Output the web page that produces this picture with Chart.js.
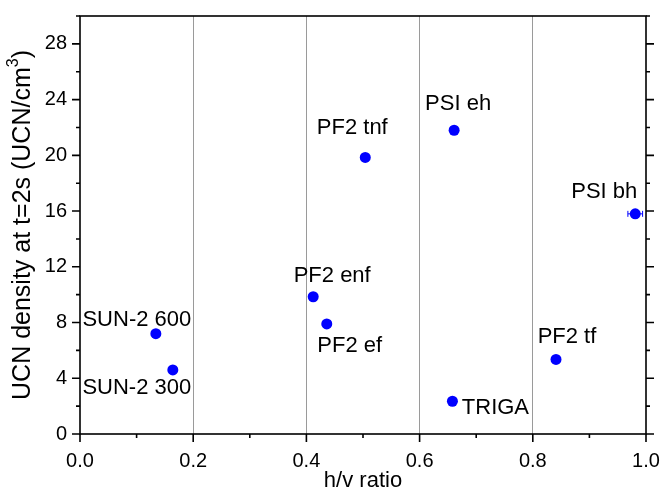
<!DOCTYPE html>
<html>
<head>
<meta charset="utf-8">
<script src="https://cdn.jsdelivr.net/npm/chart.js@4/dist/chart.umd.min.js"></script>
<style>
  html, body { margin: 0; padding: 0; background: #fff; }
  #wrap { width: 662px; height: 491px; }
</style>
</head>
<body>
<div id="wrap"><canvas id="ucnChart" width="662" height="491"></canvas></div>
<script>
// UCN sources: h/v ratio vs. density at t = 2 s
const sources = ['SUN-2 600', 'SUN-2 300', 'PF2 enf', 'PF2 ef', 'PF2 tnf', 'PSI eh', 'TRIGA', 'PF2 tf', 'PSI bh'];
const hvRatio = [0.134, 0.164, 0.412, 0.436, 0.504, 0.661, 0.658, 0.841, 0.981];
const density = [7.2, 4.6, 9.85, 7.9, 19.85, 21.8, 2.35, 5.35, 15.8];
const hvError = [0, 0, 0, 0, 0, 0, 0, 0, 0.013];

const xTicks = [0, 0.2, 0.4, 0.6, 0.8, 1.0];
const yTicks = [0, 4, 8, 12, 16, 20, 24, 28];
const xMinor = [0.1, 0.3, 0.5, 0.7, 0.9];
const yMinor = [2, 6, 10, 14, 18, 22, 26, 30];

// where each name sits relative to its dot (px)
const labelOffsets = [[-19, -14], [-36, 18], [19, -21], [23, 22], [-13, -29], [4, -26], [43, 7], [11, -23], [-31, -22]];

const FONT = '"Liberation Sans", Arial, sans-serif';

// frame, tick marks, error bars, point names and the y title
const decorations = {
    id: 'decorations',
    afterDatasetsDraw(chart) {
        const { ctx, chartArea: a, scales: { x, y } } = chart;
        ctx.save();

        // horizontal error bars
        ctx.strokeStyle = '#0000ff';
        ctx.lineWidth = 1;
        hvError.forEach((e, i) => {
            if (!e) return;
            const py = y.getPixelForValue(density[i]);
            const x0 = x.getPixelForValue(hvRatio[i] - e);
            const x1 = x.getPixelForValue(hvRatio[i] + e);
            ctx.beginPath();
            ctx.moveTo(x0, py); ctx.lineTo(x1, py);
            ctx.moveTo(x0, py - 3); ctx.lineTo(x0, py + 3);
            ctx.moveTo(x1, py - 3); ctx.lineTo(x1, py + 3);
            ctx.stroke();
        });

        // point names
        ctx.fillStyle = '#000';
        ctx.font = '22px ' + FONT;
        ctx.textAlign = 'center';
        ctx.textBaseline = 'middle';
        sources.forEach((s, i) => {
            const px = x.getPixelForValue(hvRatio[i]);
            const py = y.getPixelForValue(density[i]);
            ctx.fillText(s, px + labelOffsets[i][0], py + labelOffsets[i][1]);
        });

        // frame
        ctx.strokeStyle = '#000';
        ctx.lineWidth = 1.6;
        ctx.strokeRect(a.left, a.top, a.right - a.left, a.bottom - a.top);

        // tick marks
        ctx.beginPath();
        xTicks.forEach(v => {
            const px = x.getPixelForValue(v);
            ctx.moveTo(px, a.bottom); ctx.lineTo(px, a.bottom + 8);
        });
        xMinor.forEach(v => {
            const px = x.getPixelForValue(v);
            ctx.moveTo(px, a.bottom); ctx.lineTo(px, a.bottom + 4);
        });
        yTicks.forEach(v => {
            const py = y.getPixelForValue(v);
            ctx.moveTo(a.left, py); ctx.lineTo(a.left - 8, py);
            ctx.moveTo(a.right, py); ctx.lineTo(a.right + 8, py);
        });
        yMinor.forEach(v => {
            const py = y.getPixelForValue(v);
            ctx.moveTo(a.left, py); ctx.lineTo(a.left - 4, py);
            ctx.moveTo(a.right, py); ctx.lineTo(a.right + 4, py);
        });
        ctx.stroke();

        // y axis title with superscript
        ctx.translate(23, (a.top + a.bottom) / 2);
        ctx.rotate(-Math.PI / 2);
        const main = 'UCN density at t=2s (UCN/cm';
        const tail = ')';
        ctx.font = '25px ' + FONT;
        const wMain = ctx.measureText(main).width;
        const wTail = ctx.measureText(tail).width;
        ctx.font = '16px ' + FONT;
        const wSup = ctx.measureText('3').width;
        const start = -(wMain + wSup + wTail) / 2;
        ctx.textAlign = 'left';
        ctx.textBaseline = 'middle';
        ctx.font = '25px ' + FONT;
        ctx.fillText(main, start, 0);
        ctx.fillText(tail, start + wMain + wSup, 0);
        ctx.font = '16px ' + FONT;
        ctx.fillText('3', start + wMain, -9);
        ctx.restore();
    }
};

const data = {
    datasets: [{
        label: 'UCN sources',
        data: hvRatio.map((h, i) => ({ x: h, y: density[i] })),
        backgroundColor: '#0000ff',
        borderColor: '#0000ff',
        pointRadius: 5.5,
        pointHoverRadius: 5.5,
        borderWidth: 0
    }]
};

const config = {
    type: 'scatter',
    data: data,
    options: {
        responsive: false,
        animation: false,
        layout: { padding: { top: 16, right: 16, left: 0, bottom: 0 } },
        plugins: {
            legend: { display: false },
            tooltip: { enabled: false }
        },
        scales: {
            x: {
                type: 'linear',
                min: 0,
                max: 1,
                afterBuildTicks: scale => { scale.ticks = xTicks.map(v => ({ value: v })); },
                afterFit: scale => {
                    scale.height = 57;
                    scale.paddingLeft = 0;
                    scale.paddingRight = 0;
                },
                border: { display: false },
                grid: {
                    drawTicks: false,
                    lineWidth: 1,
                    color: c => (c.tick && c.tick.value > 0 && c.tick.value < 1) ? '#9a9a9a' : 'rgba(0,0,0,0)'
                },
                ticks: {
                    padding: 15,
                    color: '#000',
                    font: { family: FONT, size: 20 },
                    callback: v => v.toFixed(1)
                },
                title: {
                    display: true,
                    text: 'h/v ratio',
                    color: '#000',
                    font: { family: FONT, size: 22 },
                    padding: { top: 0, bottom: -3 }
                }
            },
            y: {
                type: 'linear',
                min: 0,
                max: 30,
                afterBuildTicks: scale => { scale.ticks = yTicks.map(v => ({ value: v })); },
                afterFit: scale => {
                    scale.width = 80;
                    scale.paddingTop = 0;
                    scale.paddingBottom = 0;
                },
                border: { display: false },
                grid: { display: false, drawTicks: false },
                ticks: {
                    padding: 13,
                    color: '#000',
                    font: { family: FONT, size: 20 }
                }
            }
        }
    },
    plugins: [decorations]
};

new Chart(document.getElementById('ucnChart'), config);
</script>
</body>
</html>
